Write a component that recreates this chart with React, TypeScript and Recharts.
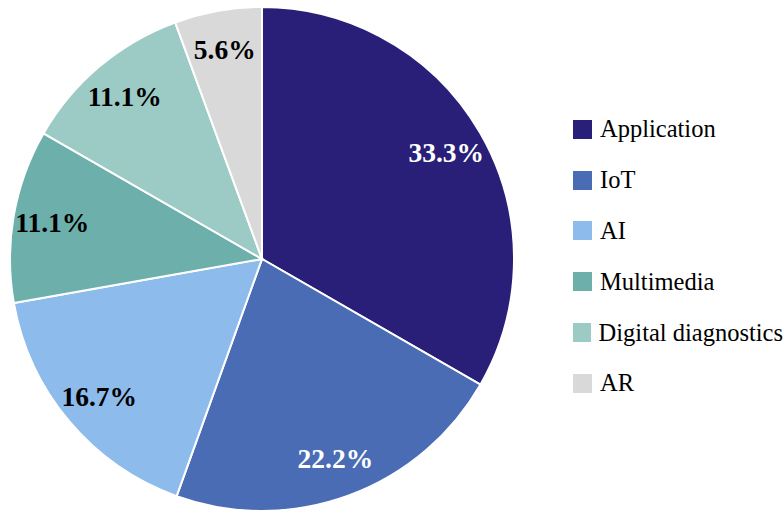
import { PieChart, Pie, Cell, Legend } from 'recharts'

const categories = ['Application', 'IoT', 'AI', 'Multimedia', 'Digital diagnostics', 'AR']
const shares = [33.3, 22.2, 16.7, 11.1, 11.1, 5.6]
const colors = ['#291f78', '#4a6cb5', '#8cbbec', '#6cafab', '#9ccbc5', '#d9d9d9']
const labelColors = ['#ffffff', '#ffffff', '#000000', '#000000', '#000000', '#000000']

const data = categories.map((name, i) => ({ name, value: shares[i] }))

const RADIAN = Math.PI / 180
const FONT = '"Liberation Serif"'

function renderLabel(props: any) {
  const { cx, cy, midAngle, outerRadius, index, value } = props
  const r = outerRadius * 0.845
  const x = cx + r * Math.cos(-midAngle * RADIAN)
  const y = cy + r * Math.sin(-midAngle * RADIAN)
  return (
    <text
      key={`label-${index}`}
      x={x}
      y={y + 9.5}
      fill={labelColors[index]}
      textAnchor="middle"
      fontFamily="Liberation Serif"
      fontWeight="bold"
      fontSize={27.5}
    >
      {`${value.toFixed(1)}%`}
    </text>
  )
}

function renderLegend() {
  return (
    <div style={{ fontFamily: FONT, fontSize: 24.5, color: '#000' }}>
      {categories.map((name, i) => (
        <div key={name} style={{ display: 'flex', alignItems: 'center', height: 50.8 }}>
          <span style={{ display: 'inline-block', width: 19, height: 19, background: colors[i], marginRight: 8 }} />
          <span style={{ whiteSpace: 'nowrap' }}>{name}</span>
        </div>
      ))}
    </div>
  )
}

export default function App() {
  return (
    <div style={{ position: 'absolute', left: 0, top: 0, background: '#fff', fontFamily: FONT }}>
      <PieChart width={783} height={511} margin={{ top: 0, right: 0, bottom: 0, left: 0 }}>
        <Pie
          data={data}
          dataKey="value"
          nameKey="name"
          cx={262}
          cy={259}
          outerRadius={252}
          startAngle={90}
          endAngle={-270}
          stroke="#ffffff"
          strokeWidth={2}
          label={renderLabel}
          labelLine={false}
          isAnimationActive={false}
        >
          {data.map((d, i) => (
            <Cell key={d.name} fill={colors[i]} />
          ))}
        </Pie>
        <Legend
          content={renderLegend}
          layout="vertical"
          wrapperStyle={{ left: 573, top: 104, width: 210 }}
        />
      </PieChart>
    </div>
  )
}
